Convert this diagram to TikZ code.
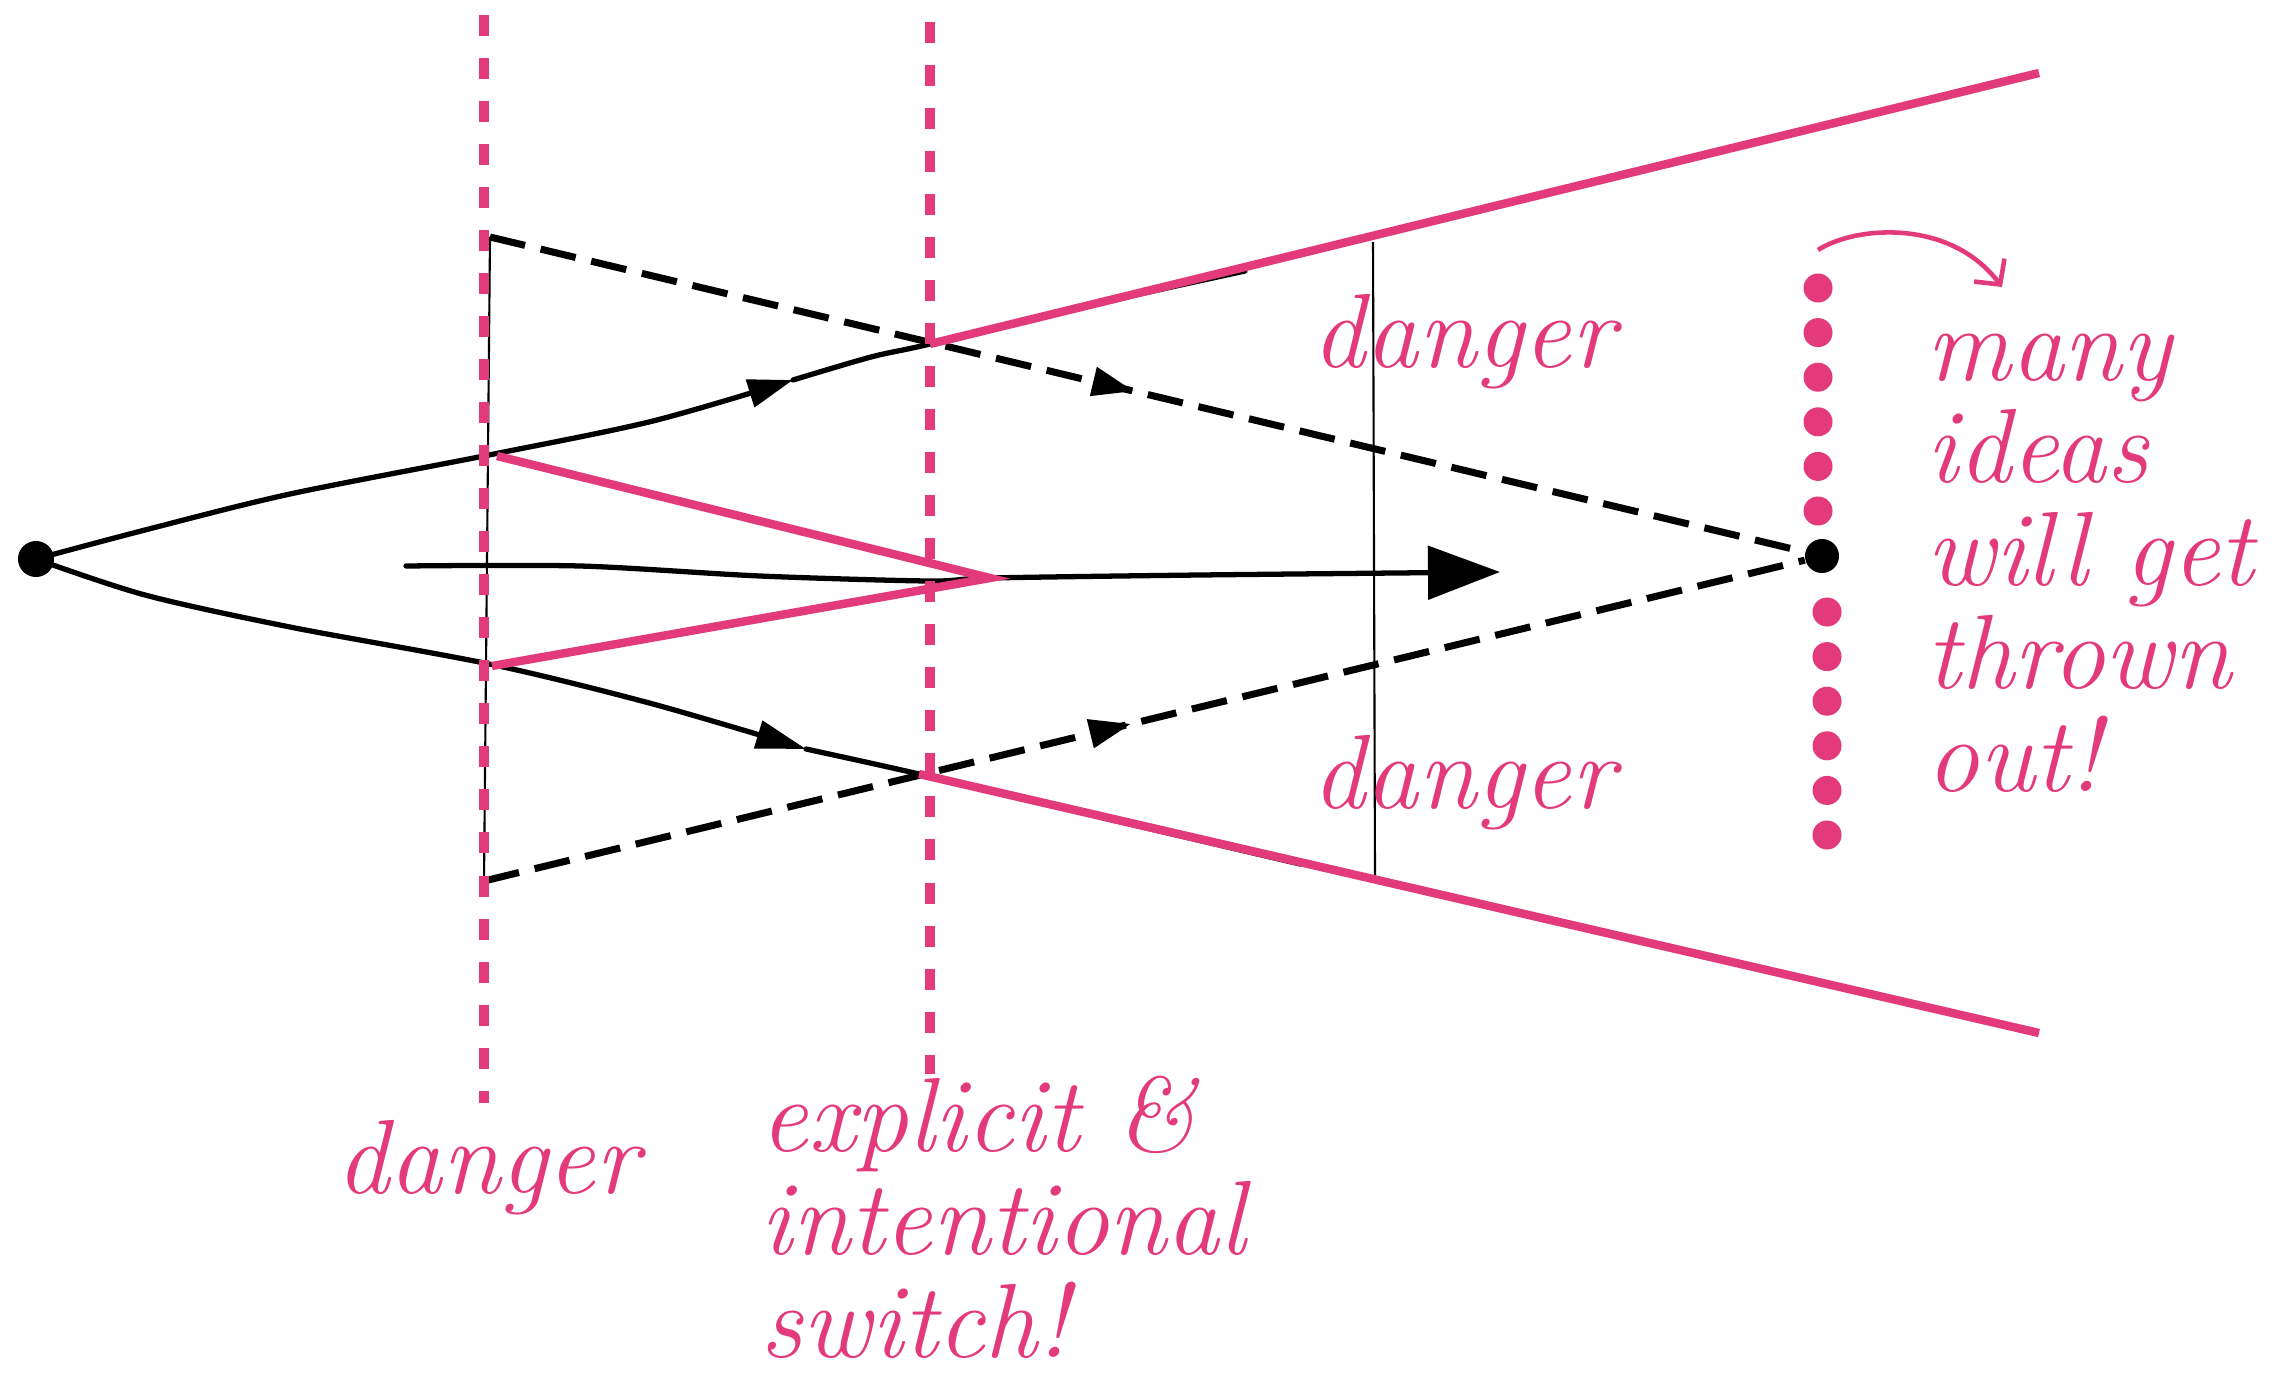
\documentclass[tikz,border=0pt]{standalone}
\usetikzlibrary{arrows.meta,decorations.markings}

\definecolor{ideapink}{RGB}{227,58,123}

\tikzset{
	pinkline/.style={draw=ideapink, line width=2.4pt},
	pinkdash/.style={draw=ideapink, line width=3.1pt, dash pattern=on 2.1mm off 2.2mm},
	blackpath/.style={draw=black, line width=1.5pt, line cap=round},
	blackdash/.style={draw=black, line width=2pt, dash pattern=on 3.6mm off 1.6mm},
	thinline/.style={draw=black, line width=0.6pt},
	handtext/.style={text=ideapink, font=\fontsize{30}{29.2}\selectfont\itshape, inner sep=0pt, align=left, anchor=base west},
	pinkdot/.style={circle, fill=ideapink, minimum size=2.9mm, inner sep=0pt},
	blackdot/.style={circle, fill=black, inner sep=0pt},
	midarrow/.style={postaction={decorate}, decoration={markings, mark=at position #1 with {\arrow{Triangle[length=4.2mm,width=2.8mm]}}}},
}

\begin{document}
\begin{tikzpicture}[x=0.01cm, y=-0.01cm]
	\useasboundingbox (0,0) rectangle (2276,1373);

	% start and end point
	\node[blackdot, minimum size=3.6mm] (src) at (36,559) {};
	\node[blackdot, minimum size=3.4mm] (sink) at (1822,556) {};

	\coordinate (ta) at (494,454);
	\coordinate (tb) at (930,344);
	\coordinate (ba) at (494,665);
	\coordinate (bb) at (919,774);
	\coordinate (vm) at (990,578);
	\coordinate (dt) at (490,237);
	\coordinate (db) at (484,881);

	% black paths
	\draw[blackpath, -{Triangle[length=4.5mm,width=2.8mm]}] plot[smooth, tension=0.5] coordinates {(src) (145,530) (290,494) (ta) (653,421) (793,380)};
	\draw[blackpath] plot[smooth, tension=0.5] coordinates {(793,380) (871,357) (tb) (1100,303) (1245,271)};
	\draw[blackpath, -{Triangle[length=5mm,width=2.8mm]}] plot[smooth, tension=0.5] coordinates {(src) (145,595) (290,627) (ba) (653,704) (806,749)};
	\draw[blackpath] plot[smooth, tension=0.5] coordinates {(806,749) (bb) (1100,817) (1300,864)};
	\draw[blackpath, -{Triangle[length=7.2mm,width=5.3mm]}] plot[smooth, tension=0.5] coordinates {(406,566) (580,566) (760,576) (929,581) (vm) (1200,575) (1500,572)};

	\draw[blackdash, midarrow=0.49] (dt) -- (sink);
	\draw[blackdash, midarrow=0.49] (db) -- (sink);

	\draw[thinline] (dt) -- (db);
	\draw[thinline] (1373,242) -- (1375,877);

	% danger lines
	\draw[pinkdash] (484,15) -- (484,1103);
	\draw[pinkdash] (930,22) -- (930,1074);

	\draw[pinkline] (tb) -- (2039,73);
	\draw[pinkline] (bb) -- (2039,1033);
	\draw[pinkline] (497,456) -- (vm) -- (492,666);

	% dots
	\foreach \k in {0,...,5}{
			\node[pinkdot] (dot-a-\k) at (1818,{288+44.6*\k}) {};
			\node[pinkdot] (dot-b-\k) at (1827,{612+44.6*\k}) {};
		}

	\coordinate (cs) at (1818,250);
	\coordinate (ce) at (2002,287);
	\draw[draw=ideapink, line width=1.3pt, -{Straight Barb[length=1.8mm,width=3.8mm]}] (cs) .. controls (1855,226) and (1950,218) .. (ce);

	% labels
	\node[handtext] (danger-top) at (1312,367) {danger};
	\node[handtext] (danger-mid) at (1312,808) {danger};
	\node[handtext] (danger-left) at (336,1193) {danger};
	\node[handtext] (switch) at (760,1357) {explicit \&\\intentional\\switch!};
	\node[handtext] (thrown) at (1926,791) {many\\ideas\\will get\\thrown\\out!};
\end{tikzpicture}
\end{document}
